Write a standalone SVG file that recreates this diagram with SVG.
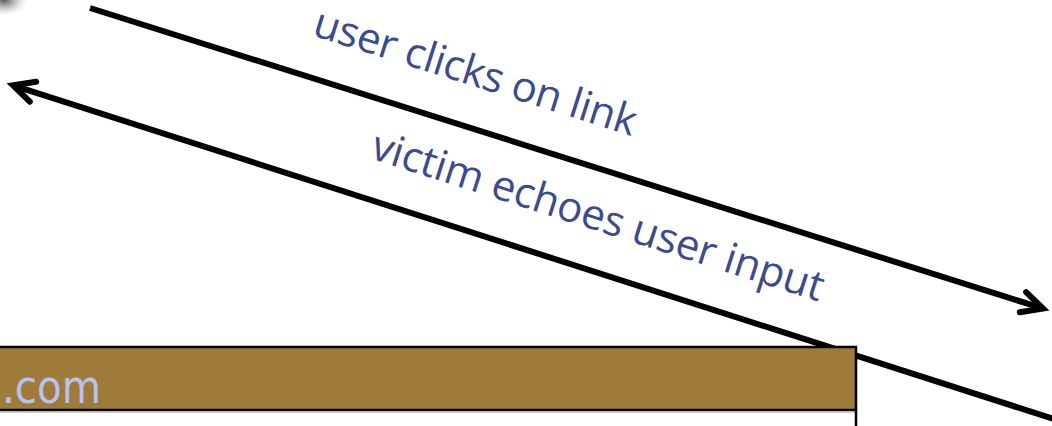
<svg xmlns="http://www.w3.org/2000/svg" width="1052" height="426" viewBox="0 0 1052 426">
  <style>
    .conn { fill: none; stroke: #000; stroke-width: 6; }
    .lbl { font-family: "Open Sans", "Noto Sans", sans-serif; font-size: 42px; fill: #3C4A8E; }
    .dom { font-family: "DejaVu Sans", Verdana, sans-serif; font-size: 46px; fill: #B9C2EE; }
  </style>
  <defs>
    <marker id="arr" markerUnits="userSpaceOnUse" markerWidth="60" markerHeight="60" viewBox="-30 -30 60 60" refX="0" refY="0" orient="auto" overflow="visible">
      <path d="M-21,-10.5 L0,0 L-21,10.5" fill="none" stroke="#000" stroke-width="6" stroke-linecap="round" stroke-linejoin="miter"/>
    </marker>
    <radialGradient id="smudge" cx="0.5" cy="0.5" r="0.5">
      <stop offset="0" stop-color="#444" stop-opacity="0.9"/>
      <stop offset="0.5" stop-color="#888" stop-opacity="0.5"/>
      <stop offset="1" stop-color="#ccc" stop-opacity="0"/>
    </radialGradient>
  </defs>

  <g id="corner-image">
    <ellipse cx="4" cy="0" rx="24" ry="16" fill="url(#smudge)"/>
  </g>

  <g id="connectors">
    <path class="conn" d="M90,8 L1043,308.5" marker-end="url(#arr)"/>
    <path class="conn" d="M1062,421.6 L13,85.3" marker-end="url(#arr)"/>
  </g>

  <g id="label-request">
    <text class="lbl" transform="translate(311,35) rotate(17.5)" textLength="336" lengthAdjust="spacing">user clicks on link</text>
  </g>
  <g id="label-response">
    <text class="lbl" transform="translate(369,158) rotate(17.7)" textLength="472" lengthAdjust="spacing">victim echoes user input</text>
  </g>

  <g id="site-panel">
    <rect x="-10" y="411" width="866" height="40" fill="#fff"/>
    <line x1="0" y1="412.5" x2="855" y2="412.5" stroke="#ccc" stroke-width="1"/>
    <line x1="856" y1="410" x2="856" y2="430" stroke="#000" stroke-width="2.5"/>
    <rect x="-10" y="347" width="866" height="63" fill="#9F7B3A" stroke="#000" stroke-width="2.5"/>
    <text class="dom" x="2" y="403" textLength="99" lengthAdjust="spacingAndGlyphs">.com</text>
  </g>
</svg>
